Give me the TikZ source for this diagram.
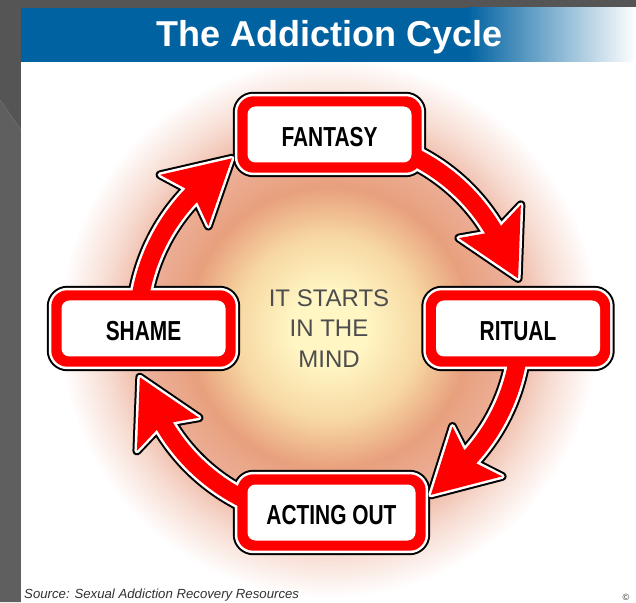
\documentclass[tikz,border=0pt]{standalone}
\usepackage{fontspec}
\setmainfont{Liberation Sans}
\newfontfamily\boxfont{Liberation Sans}[FakeStretch=0.76]
\usetikzlibrary{calc}
\definecolor{slidegray}{HTML}{555555}
\definecolor{slidegrayB}{HTML}{5F5F5F}
\definecolor{slidegrayL}{HTML}{6C6C6C}
\definecolor{titleblue}{HTML}{0062A1}
\definecolor{centergray}{HTML}{4D4D4D}
\definecolor{srcgray}{HTML}{333333}
\definecolor{gy}{RGB}{255,246,196}
\definecolor{gA}{RGB}{247,216,162}
\definecolor{gB}{RGB}{232,160,125}
\definecolor{gC}{RGB}{236,175,152}
\definecolor{gD}{RGB}{247,220,210}
\pgfdeclareradialshading{glow}{\pgfpoint{0bp}{0bp}}{color(0bp)=(gy); color(3.5bp)=(gy); color(8.5bp)=(gA); color(13bp)=(gB); color(17bp)=(gC); color(21bp)=(gD); color(25bp)=(white); color(50bp)=(white)}
\pgfdeclarelayer{glowlayer}
\pgfdeclarelayer{lblack}
\pgfdeclarelayer{lwhite}
\pgfdeclarelayer{lred}
\pgfsetlayers{glowlayer,lblack,lwhite,lred,main}
\newcommand\arrowpath[2]{\path[#1, shift={(C)}] (#2:200) arc[start angle=#2, end angle=\aNo, radius=200] -- (\aBo:228) -- (\aT:195.5) -- (\aBi:158) -- (\aNi:182.5) arc[start angle=\aNi, end angle=#2, radius=182.5] -- cycle;}
\newcommand\cyclearrow[2]{%
  \pgfmathsetmacro\aNo{#2+17}%
  \pgfmathsetmacro\aNi{#2+17.5}%
  \pgfmathsetmacro\aBo{#2+19}%
  \pgfmathsetmacro\aBi{#2+21}%
  \pgfmathsetmacro\aT{#2+1}%
  \begin{pgfonlayer}{lblack}\arrowpath{outlineblack}{#1}\end{pgfonlayer}%
  \begin{pgfonlayer}{lwhite}\arrowpath{outlinewhite}{#1}\end{pgfonlayer}%
  \begin{pgfonlayer}{lred}\arrowpath{redfill}{#1}\end{pgfonlayer}%
}
\begin{document}
\begin{tikzpicture}[x=1pt,y=1pt,
  outlineblack/.style={draw=black, line width=9pt, line join=round},
  outlinewhite/.style={draw=white, line width=5pt, line join=round},
  redfill/.style={fill=red},
  boxin/.style={fill=white, rounded corners=8pt, minimum width=164pt, minimum height=56pt,
    inner sep=0pt, text height=23.7pt, text depth=0pt,
    font={\fontsize{27.5}{30}\boxfont\bfseries}},
  ]
\useasboundingbox (0,0) rectangle (636,602);
\coordinate (C) at (329,274);
\begin{pgfonlayer}{glowlayer}
  \fill[slidegray] (0,0) rectangle (636,602);
  \fill[slidegrayB] (0,0) -- (0,502) -- (21,472) -- (21,0) -- cycle;
  \draw[slidegrayL, line width=0.8pt] (0,502) -- (21,472);
  \fill[white] (21,0) rectangle (636,594);
  \shade[shading=glow] (C) circle[radius=270];
\end{pgfonlayer}
% title bar
\fill[titleblue] (21,540) rectangle (468,594);
\shade[left color=titleblue, right color=white] (467,540) rectangle (636,594);
\node[anchor=base, text=white, inner sep=0pt, font={\fontsize{36}{40}\selectfont\bfseries}] (title) at (329.5,555) {The Addiction Cycle};
% boxes
\node[boxin] (fantasy) at (329.5,467.5) {FANTASY};
\node[boxin] (shame) at (143.5,273.5) {SHAME};
\node[boxin] (ritual) at (518,273.5) {RITUAL};
\node[boxin, minimum width=168pt] (acting) at (331.5,89.5) {ACTING OUT};
\foreach \n in {fantasy,shame,ritual,acting}{
  \begin{pgfonlayer}{lblack}
    \path[outlineblack, rounded corners=16pt] ([shift={(-10pt,-10pt)}]\n.south west) rectangle ([shift={(10pt,10pt)}]\n.north east);
  \end{pgfonlayer}
  \begin{pgfonlayer}{lwhite}
    \path[outlinewhite, rounded corners=16pt] ([shift={(-10pt,-10pt)}]\n.south west) rectangle ([shift={(10pt,10pt)}]\n.north east);
  \end{pgfonlayer}
  \begin{pgfonlayer}{lred}
    \path[redfill, rounded corners=16pt] ([shift={(-10pt,-10pt)}]\n.south west) rectangle ([shift={(10pt,10pt)}]\n.north east);
  \end{pgfonlayer}
}
% arrows
\cyclearrow{172}{118.8}
\cyclearrow{70}{13.7}
\cyclearrow{-8}{-59.6}
\cyclearrow{250}{193.6}
% centre text
\node[align=center, text=centergray, inner sep=0pt, font={\fontsize{24}{30.5}\selectfont}] (mind) at (329,273.5) {IT STARTS\\IN THE\\MIND};
% source
\node[anchor=base west, inner sep=0pt, text=srcgray, font={\fontsize{13.2}{15}\selectfont\itshape}] (src) at (24,3.2) {Source: Sexual Addiction Recovery Resources};
\node[inner sep=0pt, text=srcgray, font={\fontsize{9}{10}\selectfont}] (copy) at (626,5) {©};
\end{tikzpicture}
\end{document}
